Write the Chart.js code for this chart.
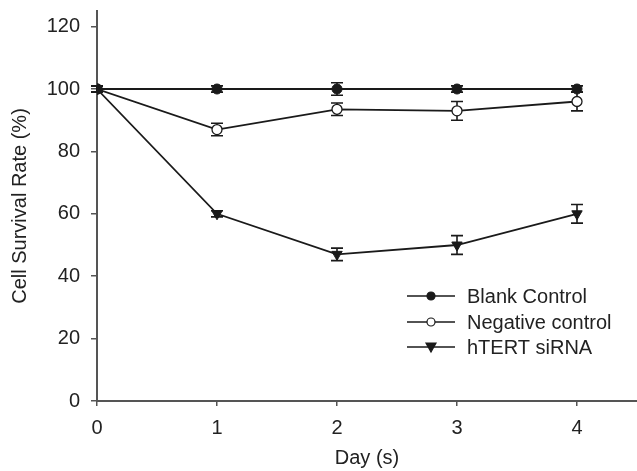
<!DOCTYPE html>
<html>
<head>
<meta charset="utf-8">
<script src="https://cdn.jsdelivr.net/npm/chart.js@4"></script>
<style>
html, body { margin: 0; padding: 0; background: #fff; overflow: hidden; }
#wrap { width: 637px; height: 471px; position: relative; }
canvas { display: block; }
</style>
</head>
<body>
<div id="wrap"><canvas id="chart"></canvas></div>
<script>
const days = [0, 1, 2, 3, 4];
const seriesNames = ['Blank Control', 'Negative control', 'hTERT siRNA'];
const blankControl = [100, 100, 100, 100, 100];
const negativeControl = [100, 87, 93.5, 93, 96];
const htertSirna = [100, 60, 47, 50, 60];
const blankErr = [1, 1, 2, 1, 1];
const negativeErr = [1, 2, 2, 3, 3];
const htertErr = [1, 1, 2, 3, 3];
const yTicks = [0, 20, 40, 60, 80, 100, 120];

const ink = '#1a1a1a';
const axisColor = '#555';
const fontFamily = '"Liberation Sans", Arial, sans-serif';

function toPoints(values) {
    return days.map((d, i) => ({x: d, y: values[i]}));
}

// vertical error bars with caps, under the markers
const errorBars = {
    id: 'errorBars',
    beforeDatasetsDraw(chart) {
        const ctx = chart.ctx;
        const xs = chart.scales.x, ys = chart.scales.y;
        ctx.save();
        ctx.strokeStyle = ink;
        ctx.lineWidth = 1.6;
        chart.data.datasets.forEach(ds => {
            ds.errors.forEach((e, i) => {
                const x = xs.getPixelForValue(days[i]);
                const top = ys.getPixelForValue(ds.data[i].y + e);
                const bot = ys.getPixelForValue(ds.data[i].y - e);
                ctx.beginPath();
                ctx.moveTo(x, top); ctx.lineTo(x, bot);
                ctx.moveTo(x - 6, top); ctx.lineTo(x + 6, top);
                ctx.moveTo(x - 6, bot); ctx.lineTo(x + 6, bot);
                ctx.stroke();
            });
        });
        ctx.restore();
    }
};

// legend in the lower right of the plot
const boxLegend = {
    id: 'boxLegend',
    afterDraw(chart) {
        const ctx = chart.ctx;
        const x0 = 407, x1 = 455, tx = 467;
        const rows = [296, 322, 347];
        ctx.save();
        ctx.font = '20px ' + fontFamily;
        ctx.textBaseline = 'middle';
        chart.data.datasets.forEach((ds, i) => {
            const y = rows[i];
            const mx = (x0 + x1) / 2;
            ctx.strokeStyle = ink;
            ctx.lineWidth = 1.6;
            ctx.beginPath();
            ctx.moveTo(x0, y); ctx.lineTo(x1, y);
            ctx.stroke();
            ctx.beginPath();
            if (ds.pointStyle === 'triangle') {
                ctx.moveTo(mx - 5, y - 4);
                ctx.lineTo(mx + 5, y - 4);
                ctx.lineTo(mx, y + 5);
                ctx.closePath();
            } else {
                ctx.arc(mx, y, 4, 0, Math.PI * 2);
            }
            ctx.fillStyle = ds.pointBackgroundColor;
            ctx.fill();
            ctx.lineWidth = 1.2;
            ctx.stroke();
            ctx.fillStyle = '#222';
            ctx.fillText(ds.label, tx, y + 1);
        });
        ctx.restore();
    }
};

new Chart(document.getElementById('chart'), {
    type: 'line',
    data: {
        datasets: [
            {label: seriesNames[0], data: toPoints(blankControl), errors: blankErr,
             borderColor: ink, borderWidth: 1.8, pointStyle: 'circle', pointRadius: 5,
             pointBackgroundColor: ink, pointBorderColor: ink, pointBorderWidth: 1},
            {label: seriesNames[1], data: toPoints(negativeControl), errors: negativeErr,
             borderColor: ink, borderWidth: 1.8, pointStyle: 'circle', pointRadius: 5,
             pointBackgroundColor: '#fff', pointBorderColor: ink, pointBorderWidth: 1.3},
            {label: seriesNames[2], data: toPoints(htertSirna), errors: htertErr,
             borderColor: ink, borderWidth: 1.8, pointStyle: 'triangle', pointRadius: 6,
             pointRotation: 180, pointBackgroundColor: ink, pointBorderColor: ink, pointBorderWidth: 1}
        ]
    },
    options: {
        responsive: true,
        maintainAspectRatio: false,
        animation: false,
        events: [],
        layout: {autoPadding: false, padding: {top: 11, right: 0, left: 0, bottom: 0}},
        plugins: {legend: {display: false}, tooltip: {enabled: false}},
        scales: {
            x: {
                type: 'linear', min: 0, max: 4.5,
                afterBuildTicks: s => { s.ticks = days.map(v => ({value: v})); },
                afterFit: s => { s.height = 70; s.paddingLeft = 0; s.paddingRight = 0; },
                ticks: {color: '#222', font: {family: fontFamily, size: 20}, padding: 10},
                grid: {drawOnChartArea: false, drawTicks: true, tickLength: 5, color: axisColor, lineWidth: 1.5},
                border: {display: true, color: axisColor, width: 2},
                title: {display: true, text: 'Day (s)', color: '#222',
                        font: {family: fontFamily, size: 20}, padding: {top: 0, bottom: 1}}
            },
            y: {
                min: 0, max: 125,
                afterBuildTicks: s => { s.ticks = yTicks.map(v => ({value: v})); },
                afterFit: s => { s.width = 97; s.paddingTop = 0; s.paddingBottom = 0; },
                ticks: {color: '#222', font: {family: fontFamily, size: 20}, padding: 11},
                grid: {drawOnChartArea: false, drawTicks: true, tickLength: 6, color: axisColor, lineWidth: 1.5},
                border: {display: true, color: axisColor, width: 2},
                title: {display: true, text: 'Cell Survival Rate (%)', color: '#222',
                        font: {family: fontFamily, size: 20}, padding: {top: 8, bottom: 0}}
            }
        }
    },
    plugins: [errorBars, boxLegend]
});
</script>
</body>
</html>
